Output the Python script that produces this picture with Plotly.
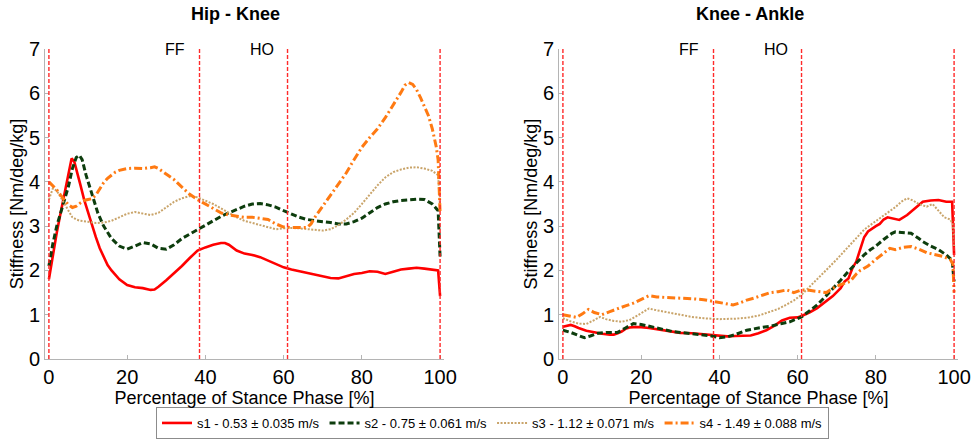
import plotly.graph_objects as go

# ---------------- data ----------------
hk_s1_x = [0, 1, 2, 3, 4, 5, 5.8, 6.5, 7, 8, 9, 10, 11, 12, 13, 14, 15, 16, 18, 20, 22, 24, 26, 27, 28, 30, 32, 34, 36, 38, 40, 42, 44, 45, 46, 48, 50, 52, 54, 56, 58, 60, 62, 64, 66, 68, 70, 72, 74, 76, 78, 80, 82, 84, 86, 88, 90, 92, 94, 96, 98, 99.5, 100]
hk_s1_y = [1.8, 2.35, 2.85, 3.3, 3.75, 4.25, 4.53, 4.45, 4.3, 3.95, 3.6, 3.3, 3.0, 2.75, 2.5, 2.3, 2.12, 2.0, 1.8, 1.67, 1.62, 1.6, 1.56, 1.57, 1.63, 1.78, 1.93, 2.1, 2.28, 2.45, 2.52, 2.58, 2.62, 2.62, 2.58, 2.45, 2.38, 2.35, 2.3, 2.22, 2.15, 2.07, 2.02, 1.98, 1.95, 1.9, 1.86, 1.83, 1.82, 1.87, 1.92, 1.94, 1.98, 1.97, 1.92, 1.97, 2.02, 2.04, 2.06, 2.04, 2.02, 2.0, 1.42]

hk_s2_x = [0, 1, 2, 3, 4, 5, 6, 7, 7.8, 8.5, 9.5, 10.5, 11.5, 12.5, 14, 15, 16, 18, 20, 22, 24, 26, 28, 30, 32, 34, 36, 38.5, 40, 42, 44, 46, 48, 50, 52, 54, 56, 58, 60, 62, 64, 66, 68, 70, 72, 74, 76, 78, 80, 82, 84, 86, 88, 90, 92, 94, 96, 98, 99.5, 100]
hk_s2_y = [2.1, 2.6, 3.0, 3.3, 3.55, 3.9, 4.3, 4.55, 4.6, 4.5, 4.15, 3.85, 3.55, 3.3, 3.0, 2.85, 2.72, 2.55, 2.48, 2.55, 2.63, 2.6, 2.5, 2.48, 2.58, 2.72, 2.82, 2.95, 3.03, 3.13, 3.22, 3.3, 3.38, 3.45, 3.5, 3.51, 3.48, 3.43, 3.35, 3.28, 3.2, 3.15, 3.12, 3.1, 3.08, 3.05, 3.05, 3.1, 3.18, 3.3, 3.42, 3.5, 3.55, 3.58, 3.6, 3.61, 3.6, 3.5, 3.35, 2.3]

hk_s3_x = [0, 1, 2, 3, 4, 5, 6, 7, 8, 10, 12, 14, 16, 18, 20, 22, 24, 26, 28, 30, 32, 34, 36, 38, 40, 42, 44, 46, 48, 50, 52, 54, 56, 58, 60, 62, 64, 66, 68, 70, 72, 74, 76, 78, 80, 82, 84, 86, 88, 90, 92, 94, 96, 98, 99.5, 100]
hk_s3_y = [3.6, 3.85, 3.8, 3.65, 3.5, 3.35, 3.2, 3.15, 3.12, 3.1, 3.07, 3.08, 3.12, 3.2, 3.28, 3.32, 3.28, 3.25, 3.3, 3.42, 3.55, 3.63, 3.68, 3.65, 3.58, 3.5, 3.4, 3.3, 3.2, 3.12, 3.07, 3.02, 2.97, 2.93, 2.95, 2.96, 2.95, 2.93, 2.92, 2.9, 2.93, 3.02, 3.15, 3.3, 3.5, 3.72, 3.92, 4.1, 4.22, 4.28, 4.32, 4.33, 4.3, 4.25, 4.15, 3.4]

hk_s4_x = [0, 1, 2, 3, 4, 5, 6, 7, 8, 9, 10, 11, 12, 13, 14, 15, 16, 17, 18, 20, 22, 24, 26, 27, 28, 30, 32, 34, 36, 38, 40, 42, 44, 46, 48, 50, 52, 54, 56, 58, 60, 62, 64, 66, 67, 68, 70, 72, 74, 76, 78, 80, 82, 84, 86, 88, 90, 91, 92, 93, 94, 95, 96, 97, 98, 99, 99.5, 100]
hk_s4_y = [4.0, 3.92, 3.82, 3.7, 3.58, 3.48, 3.42, 3.45, 3.52, 3.58, 3.6, 3.62, 3.7, 3.85, 3.98, 4.08, 4.15, 4.22, 4.26, 4.3, 4.31, 4.3, 4.32, 4.34, 4.3, 4.18, 4.05, 3.88, 3.72, 3.6, 3.5, 3.4, 3.3, 3.25, 3.22, 3.2, 3.2, 3.18, 3.15, 3.05, 2.98, 2.97, 2.97, 2.97, 3.05, 3.2, 3.45, 3.7, 3.95, 4.2, 4.5, 4.78, 5.0, 5.2, 5.45, 5.72, 6.02, 6.18, 6.24, 6.2, 6.08, 5.9, 5.7, 5.5, 5.2, 4.8, 4.5, 3.3]

ka_s1_x = [0, 1, 2, 3, 4, 6, 8, 10, 12, 13, 14, 15, 16, 17, 18, 20, 22, 25, 28, 30, 33, 36, 38, 40, 42, 44, 46, 48, 50, 52, 54, 56, 58, 60, 61, 63, 65, 67, 69, 71, 72, 73, 74, 75, 76, 77, 78, 79, 80, 81, 82, 83, 84, 86, 88, 90, 92, 94, 96, 98, 99.5, 100]
ka_s1_y = [0.73, 0.75, 0.77, 0.74, 0.7, 0.64, 0.6, 0.57, 0.55, 0.55, 0.58, 0.62, 0.68, 0.71, 0.72, 0.72, 0.7, 0.66, 0.62, 0.59, 0.58, 0.56, 0.54, 0.52, 0.51, 0.52, 0.52, 0.53, 0.58, 0.65, 0.75, 0.87, 0.93, 0.94, 0.97, 1.05, 1.15, 1.28, 1.42, 1.6, 1.75, 1.82, 2.05, 2.2, 2.5, 2.75, 2.88, 2.95, 3.0, 3.05, 3.15, 3.2, 3.18, 3.14, 3.25, 3.4, 3.55, 3.58, 3.59, 3.55, 3.55, 2.35]

ka_s2_x = [0, 2, 4, 5.5, 7, 9, 11, 14, 16, 18, 20, 22, 25, 28, 30, 33, 36, 38, 40, 42, 44, 47, 50, 53, 56, 58, 61, 63, 65, 67, 69, 71, 73, 75, 77, 78.5, 80, 82, 84, 85, 87, 89, 91, 92, 94, 96, 98, 99.5, 100]
ka_s2_y = [0.65, 0.6, 0.53, 0.48, 0.52, 0.58, 0.6, 0.6, 0.7, 0.8, 0.78, 0.74, 0.68, 0.62, 0.6, 0.57, 0.55, 0.52, 0.48, 0.5, 0.55, 0.65, 0.7, 0.74, 0.8, 0.84, 0.95, 1.08, 1.22, 1.4, 1.58, 1.78, 1.98, 2.16, 2.35, 2.46, 2.55, 2.7, 2.83, 2.87, 2.85, 2.84, 2.72, 2.65, 2.55, 2.47, 2.35, 2.23, 1.75]

ka_s3_x = [0, 2, 4, 6, 8, 9.5, 11, 13, 15, 17, 19, 21, 22, 24, 27, 30, 33, 36, 40, 44, 47, 50, 53, 55, 57, 59, 61, 63, 65, 67, 70, 72.6, 75, 77, 79, 81, 83, 85, 86.5, 88, 89.5, 91, 93, 94.5, 96, 97.5, 99, 99.7, 100]
ka_s3_y = [0.92, 0.85, 0.8, 0.79, 0.88, 0.95, 0.9, 0.86, 0.84, 0.88, 0.98, 1.08, 1.14, 1.1, 1.05, 0.99, 0.95, 0.92, 0.9, 0.91, 0.93, 0.98, 1.07, 1.13, 1.22, 1.32, 1.45, 1.62, 1.8, 1.98, 2.25, 2.5, 2.75, 2.92, 3.05, 3.18, 3.3, 3.43, 3.55, 3.63, 3.58, 3.5, 3.44, 3.5, 3.35, 3.2, 3.15, 3.05, 2.55]

ka_s4_x = [0, 2, 3.5, 5, 6.5, 8, 10, 12, 14, 16, 18, 20, 22, 24, 27, 30, 33, 36, 38.5, 40, 42, 43.5, 45, 47, 49, 51, 53, 55, 57.2, 59, 61, 63, 65, 67.4, 69, 71, 73.4, 75, 76, 78, 80, 82, 83.6, 85, 87, 89, 91, 93, 95, 97, 99, 99.7, 100]
ka_s4_y = [1.0, 0.97, 0.94, 1.02, 1.12, 1.05, 1.0, 1.07, 1.14, 1.2, 1.26, 1.35, 1.43, 1.4, 1.39, 1.38, 1.36, 1.34, 1.3, 1.29, 1.25, 1.22, 1.26, 1.33, 1.38, 1.44, 1.5, 1.52, 1.56, 1.5, 1.56, 1.55, 1.52, 1.5, 1.6, 1.68, 1.75, 1.92, 2.0, 2.1, 2.25, 2.4, 2.5, 2.47, 2.52, 2.54, 2.48, 2.4, 2.36, 2.32, 2.25, 2.15, 1.5]

series_names = ["s1 - 0.53 ± 0.035 m/s", "s2 - 0.75 ± 0.061 m/s",
                "s3 - 1.12 ± 0.071 m/s", "s4 - 1.49 ± 0.088 m/s"]
events = [0, 38.5, 61, 100]
event_labels = [("FF", 32.3), ("HO", 54.6)]
panel_titles = ["Hip - Knee", "Knee - Ankle"]
x_ticks = [0, 20, 40, 60, 80, 100]
y_ticks = [0, 1, 2, 3, 4, 5, 6, 7]

# ---------------- styles ----------------
styles = [
    dict(color="#ff0000", width=2.6, dash="solid"),
    dict(color="#0d3d0d", width=3, dash="6px,3px"),
    dict(color="#c9a46a", width=2, dash="2px,1.5px"),
    dict(color="#ff7a12", width=3, dash="8px,3px,2px,3px"),
]
FONT = "Liberation Sans, Arial, Helvetica, sans-serif"

fig = go.Figure()
panels = [
    ([hk_s1_x, hk_s2_x, hk_s3_x, hk_s4_x], [hk_s1_y, hk_s2_y, hk_s3_y, hk_s4_y], "x", "y"),
    ([ka_s1_x, ka_s2_x, ka_s3_x, ka_s4_x], [ka_s1_y, ka_s2_y, ka_s3_y, ka_s4_y], "x2", "y2"),
]
for p, (xs, ys, xa, ya) in enumerate(panels):
    for i in range(4):
        fig.add_trace(go.Scatter(
            x=xs[i], y=ys[i], mode="lines", name=series_names[i],
            line=styles[i], xaxis=xa, yaxis=ya, showlegend=(p == 0),
        ))

shapes = []
annotations = []
for p, (xa, ya) in enumerate([("x", "y"), ("x2", "y2")]):
    for ev in events:
        shapes.append(dict(type="line", xref=xa, yref=ya, x0=ev, x1=ev, y0=0, y1=7,
                           line=dict(color="#ff2a2a", width=1.4, dash="4px,2px"), layer="above"))
    for lab, lx in event_labels:
        annotations.append(dict(text=lab, xref=xa, yref=ya, x=lx, y=7, showarrow=False,
                                xanchor="center", yanchor="middle",
                                font=dict(size=16, color="black", family=FONT)))

title_x = [235.5 / 974, 750 / 974]
for t, tx in zip(panel_titles, title_x):
    annotations.append(dict(text="<b>" + t + "</b>", xref="paper", yref="paper", x=tx, y=1 - 14 / 439,
                            showarrow=False, xanchor="center", yanchor="middle",
                            font=dict(size=18, color="black", family=FONT)))

axis_common = dict(showline=True, linecolor="#b4b4b4", linewidth=1, mirror=False, automargin=False,
                   ticks="inside", ticklen=4, tickcolor="#b4b4b4", showgrid=False, zeroline=False,
                   tickfont=dict(size=20, color="black", family=FONT))
xcommon = dict(axis_common, range=[-1, 101], tickvals=x_ticks,
               title=dict(text="Percentage of Stance Phase [%]", font=dict(size=18, color="black", family=FONT), standoff=2))
ycommon = dict(axis_common, range=[0, 7], tickvals=y_ticks,
               title=dict(text="Stiffness [Nm/deg/kg]", font=dict(size=18, color="black", family=FONT), standoff=0))

ydom = [1 - 359 / 439, 1 - 49 / 439]
fig.update_layout(
    width=974, height=439,
    margin=dict(l=0, r=0, t=0, b=0, autoexpand=False),
    paper_bgcolor="white", plot_bgcolor="white",
    xaxis=dict(xcommon, domain=[45 / 974, 444 / 974], anchor="y"),
    yaxis=dict(ycommon, domain=ydom, anchor="x"),
    xaxis2=dict(xcommon, domain=[559 / 974, 958 / 974], anchor="y2"),
    yaxis2=dict(ycommon, domain=ydom, anchor="x2"),
    shapes=shapes,
    annotations=annotations,
    showlegend=True,
    legend=dict(orientation="h", x=492.5 / 974, xanchor="center", y=1 - 407 / 439, yanchor="top",
                bordercolor="#8c8c8c", borderwidth=1, bgcolor="white",
                font=dict(size=13, color="black", family=FONT),
                itemwidth=30, tracegroupgap=0),
)

fig.write_html("out.html")
